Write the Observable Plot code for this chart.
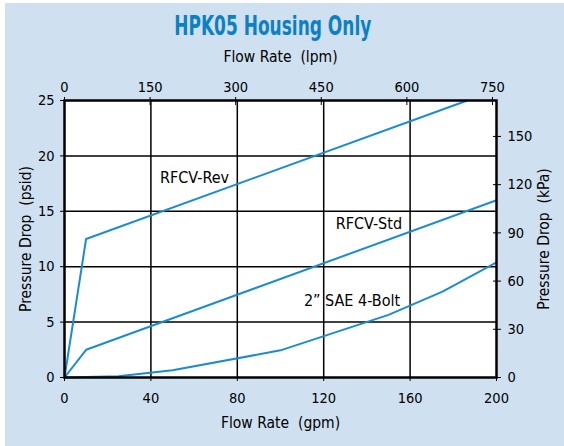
<!DOCTYPE html>
<html><head><meta charset="utf-8">
<script src="https://cdn.jsdelivr.net/npm/d3@7"></script>
<script src="https://cdn.jsdelivr.net/npm/@observablehq/plot@0.6"></script>
<style>
body{margin:0;background:#fff;}
#wrap{position:absolute;left:5px;top:3px;width:559px;height:443px;background:#cfe0f0;}
#title{box-sizing:border-box;height:37px;width:536px;padding-top:8px;line-height:30px;text-align:center;
 font-family:"Liberation Sans Narrow","DejaVu Sans Condensed","Liberation Sans",sans-serif;font-weight:bold;font-size:27px;color:#0b80c4;}
#title span{display:inline-block;transform:scaleX(0.70);}
#chart svg{display:block;}
</style></head>
<body>
<div id="wrap"><div id="title"><span>HPK05 Housing Only</span></div><div id="chart"></div></div>
<script>
const FONT = '"Liberation Sans Narrow","DejaVu Sans Condensed","Liberation Sans",sans-serif';
const LPM_PER_GPM = 3.78541;
const KPA_PER_PSI = 6.89476;

// tick labels
const gpmTicks = [0, 40, 80, 120, 160, 200];
const lpmTicks = [0, 150, 300, 450, 600, 750];
const psiTicks = [0, 5, 10, 15, 20, 25];
const kpaTicks = [0, 30, 60, 90, 120, 150];

// series (flow gpm, pressure drop psid)
const revFlow = [0, 10, 186.5];
const revPsi  = [0, 12.5, 25];
const stdFlow = [0, 10, 200];
const stdPsi  = [0, 2.5, 16];
const saeFlow = [0, 25, 50, 100, 150, 175, 200];
const saePsi  = [0, 0.12, 0.65, 2.45, 5.65, 7.75, 10.4];

// series labels
const labelNames = ["RFCV-Rev", "RFCV-Std", "2\u201d SAE 4-Bolt"];
const labelFlow  = [60.2, 140.9, 133.1];
const labelPsi   = [18.0, 13.85, 6.94];

const toRows = (xs, ys) => xs.map((x, i) => ({x, y: ys[i]}));
const lineColor = "#1a8dd0";

const chart = Plot.plot({
  width: 559, height: 406,
  marginLeft: 59, marginRight: 68, marginTop: 60, marginBottom: 69,
  style: {background: "transparent", fontFamily: FONT, fontSize: "14.5px", color: "black"},
  x: {domain: [0, 200]},
  y: {domain: [0, 25]},
  marks: [
    Plot.frame({fill: "white", stroke: null}),
    Plot.gridX(gpmTicks.slice(1, -1), {stroke: "black", strokeOpacity: 1, strokeWidth: 1.5}),
    Plot.gridY(psiTicks.slice(1, -1), {stroke: "black", strokeOpacity: 1, strokeWidth: 1.5}),
    Plot.line(toRows(revFlow, revPsi), {x: "x", y: "y", stroke: lineColor, strokeWidth: 2}),
    Plot.line(toRows(stdFlow, stdPsi), {x: "x", y: "y", stroke: lineColor, strokeWidth: 2}),
    Plot.line(toRows(saeFlow, saePsi), {x: "x", y: "y", stroke: lineColor, strokeWidth: 2}),
    Plot.text(labelNames, {x: (d, i) => labelFlow[i], y: (d, i) => labelPsi[i], text: d => d, fontSize: 16, fill: "black"}),
    Plot.frame({stroke: "black", strokeWidth: 2.5}),
    Plot.axisX(gpmTicks, {anchor: "bottom", tickSize: 4, tickPadding: 11, fontSize: 14.5,
      label: "Flow Rate\u00a0 (gpm)", labelAnchor: "center", labelOffset: 50, labelArrow: "none"}),
    Plot.axisX(lpmTicks.map(v => v / LPM_PER_GPM), {anchor: "top", tickSize: 4, tickPadding: 5, fontSize: 14.5,
      tickFormat: d => Math.round(d * LPM_PER_GPM),
      label: "Flow Rate\u00a0 (lpm)", labelAnchor: "center", labelOffset: 50, labelArrow: "none"}),
    Plot.axisX(lpmTicks.map(v => v / LPM_PER_GPM), {anchor: "top", tickSize: -4, fill: "none", label: null}),
    Plot.axisY(psiTicks, {anchor: "left", tickSize: 4, tickPadding: 6, fontSize: 14.5,
      label: "Pressure Drop\u00a0 (psid)", labelAnchor: "center", labelOffset: 45, labelArrow: "none"}),
    Plot.axisY(kpaTicks.map(v => v / KPA_PER_PSI), {anchor: "right", tickSize: 4, tickPadding: 7, fontSize: 14.5,
      tickFormat: d => Math.round(d * KPA_PER_PSI),
      label: "Pressure Drop\u00a0 (kPa)", labelAnchor: "center", labelOffset: 52, labelArrow: "none"}),
    Plot.axisY(kpaTicks.map(v => v / KPA_PER_PSI), {anchor: "right", tickSize: -4, fill: "none", label: null})
  ]
});
// axis titles a touch larger than tick labels
chart.querySelectorAll("[aria-label$='axis label'] text").forEach(t => t.setAttribute("font-size", "15.5"));
document.getElementById("chart").appendChild(chart);
</script>
</body></html>
